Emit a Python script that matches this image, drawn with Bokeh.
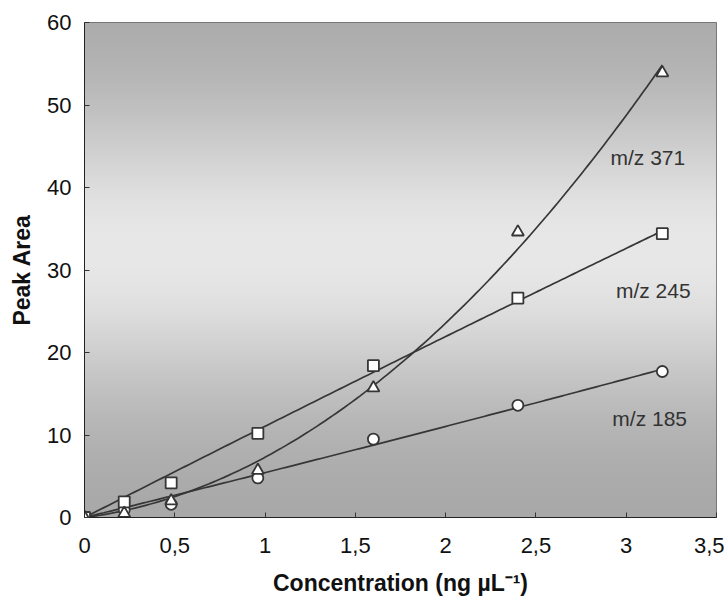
import numpy as np
from bokeh.plotting import figure
from bokeh.models import FixedTicker, Range1d
from bokeh.core.properties import value
from bokeh.embed import file_html
from bokeh.resources import INLINE

# ---- data ----
conc = [0, 0.22, 0.48, 0.96, 1.6, 2.4, 3.2]
mz371 = [0, 0.5, 2.0, 5.7, 15.7, 34.6, 53.9]
mz245 = [0, 1.9, 4.2, 10.2, 18.4, 26.6, 34.4]
mz185 = [0, 0.9, 1.6, 4.8, 9.5, 13.6, 17.7]
series_names = ["m/z 371", "m/z 245", "m/z 185"]
x_ticks = [0, 0.5, 1, 1.5, 2, 2.5, 3, 3.5]
x_tick_labels = ["0", "0,5", "1", "1,5", "2", "2,5", "3", "3,5"]
y_ticks = [0, 10, 20, 30, 40, 50, 60]

# label anchor positions (data coords)
label_x = [3.12, 3.15, 3.13]
label_y = [43.6, 27.5, 12.0]

FONT = "Liberation Sans"
LINE = "#363636"

p = figure(width=724, height=600, output_backend="svg", toolbar_location=None,
           x_range=Range1d(0, 3.5), y_range=Range1d(0, 60),
           min_border_left=84, min_border_right=8, min_border_top=22,
           min_border_bottom=83)
p.background_fill_color = "#c8c8c8"
p.border_fill_color = "white"
p.outline_line_color = "#666666"
p.outline_line_width = 1
p.grid.visible = False

# gradient background (decorative)
n = 240
f = np.linspace(1, 0, n)  # row 0 is bottom in image coords
g = 166 + 66 * np.exp(-((f - 0.46) / 0.30) ** 2)
img = np.zeros((n, 1), dtype=np.uint32)
view = img.view(dtype=np.uint8).reshape((n, 1, 4))
view[:, 0, 0] = g.astype(np.uint8)
view[:, 0, 1] = g.astype(np.uint8)
view[:, 0, 2] = g.astype(np.uint8)
view[:, 0, 3] = 255
p.image_rgba(image=[img], x=0, y=0, dw=3.5, dh=60)

# fitted curves through origin (y = a x + b x^2)
def fit(x, y):
    x = np.asarray(x, float)
    y = np.asarray(y, float)
    A = np.column_stack([x, x ** 2])
    coef, *_ = np.linalg.lstsq(A, y, rcond=None)
    xs = np.linspace(0, x.max(), 150)
    return xs, coef[0] * xs + coef[1] * xs ** 2

for ys in (mz371, mz245, mz185):
    xs, yf = fit(conc, ys)
    p.line(xs, yf, line_color=LINE, line_width=1.7)

p.scatter(conc, mz185, marker="circle", size=11, fill_color="white",
          line_color=LINE, line_width=1.8)
p.scatter(conc, mz245, marker="square", size=11, fill_color="white",
          line_color=LINE, line_width=1.8)
p.scatter(conc, mz371, marker="triangle", size=12, fill_color="white",
          line_color=LINE, line_width=1.8)

p.text(x=label_x, y=label_y, text=series_names, text_font=value(FONT),
       text_font_size="21px", text_color="#333333", text_align="center",
       text_baseline="middle")

# axes
p.xaxis.ticker = FixedTicker(ticks=x_ticks)
p.xaxis.major_label_overrides = {t: l for t, l in zip(x_ticks, x_tick_labels)}
p.yaxis.ticker = FixedTicker(ticks=y_ticks)
for ax in (p.xaxis, p.yaxis):
    ax.minor_tick_line_color = None
    ax.major_tick_in = 5
    ax.major_tick_out = 0
    ax.major_tick_line_color = "#333333"
    ax.axis_line_color = "#222222"
    ax.axis_line_width = 1
    ax.major_label_text_font = FONT
    ax.major_label_text_font_size = "22px"
    ax.major_label_text_color = "#111111"
    ax.axis_label_text_font = FONT
    ax.axis_label_text_font_size = "23px"
    ax.axis_label_text_font_style = "bold"
    ax.axis_label_text_color = "#111111"

p.xaxis.axis_label = "Concentration (ng \u00b5L\u207b\u00b9)"
p.yaxis.axis_label = "Peak Area"
p.xaxis.major_label_standoff = 20
p.xaxis.axis_label_standoff = 14
p.yaxis.major_label_standoff = 13
p.yaxis.axis_label_standoff = 9

open("out.html", "w").write(file_html(p, INLINE))
